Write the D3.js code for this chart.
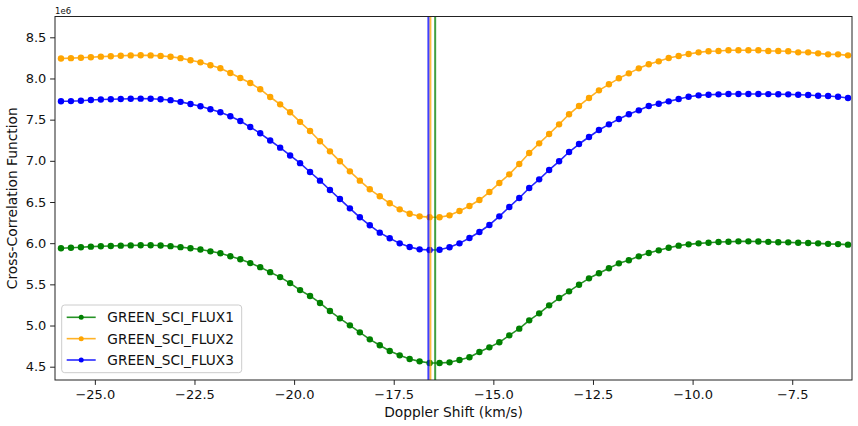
<!DOCTYPE html>
<html>
<head>
<meta charset="utf-8">
<script src="https://cdn.jsdelivr.net/npm/d3@7"></script>
<style>
  html, body { margin: 0; padding: 0; background: #fff; }
  svg { display: block; font-family: "DejaVu Sans", sans-serif; }
</style>
</head>
<body>
<svg id="chart" width="858" height="426"></svg>
<script>
// ---- data (values in units of 1e6) ----
const velocity = [-25.85, -25.60, -25.35, -25.10, -24.85, -24.60, -24.35, -24.10, -23.85, -23.60,
  -23.35, -23.10, -22.85, -22.60, -22.35, -22.10, -21.85, -21.60, -21.35, -21.10,
  -20.85, -20.60, -20.35, -20.10, -19.85, -19.60, -19.35, -19.10, -18.85, -18.60,
  -18.35, -18.10, -17.85, -17.60, -17.35, -17.10, -16.85, -16.60, -16.35, -16.10,
  -15.85, -15.60, -15.35, -15.10, -14.85, -14.60, -14.35, -14.10, -13.85, -13.60,
  -13.35, -13.10, -12.85, -12.60, -12.35, -12.10, -11.85, -11.60, -11.35, -11.10,
  -10.85, -10.60, -10.35, -10.10, -9.85, -9.60, -9.35, -9.10, -8.85, -8.60,
  -8.35, -8.10, -7.85, -7.60, -7.35, -7.10, -6.85, -6.60, -6.35, -6.10];

const flux1 = [5.938, 5.945, 5.950, 5.958, 5.962, 5.965, 5.970, 5.973, 5.974, 5.974,
  5.972, 5.964, 5.952, 5.938, 5.924, 5.901, 5.877, 5.841, 5.804, 5.758,
  5.709, 5.648, 5.588, 5.515, 5.430, 5.359, 5.274, 5.176, 5.087, 5.002,
  4.917, 4.832, 4.760, 4.691, 4.638, 4.594, 4.565, 4.545, 4.545, 4.553,
  4.581, 4.614, 4.679, 4.735, 4.796, 4.881, 4.962, 5.063, 5.148, 5.245,
  5.334, 5.415, 5.496, 5.573, 5.634, 5.695, 5.755, 5.792, 5.840, 5.881,
  5.913, 5.945, 5.970, 5.986, 5.998, 6.006, 6.014, 6.018, 6.022, 6.022,
  6.021, 6.016, 6.012, 6.010, 6.006, 6.002, 5.998, 5.992, 5.989, 5.982];

const flux2 = [8.243, 8.247, 8.252, 8.258, 8.265, 8.270, 8.276, 8.280, 8.282, 8.280,
  8.274, 8.263, 8.247, 8.221, 8.196, 8.160, 8.124, 8.066, 8.006, 7.945,
  7.870, 7.775, 7.686, 7.589, 7.473, 7.362, 7.237, 7.115, 6.994, 6.872,
  6.759, 6.654, 6.569, 6.484, 6.411, 6.358, 6.326, 6.316, 6.314, 6.338,
  6.391, 6.452, 6.524, 6.621, 6.731, 6.836, 6.961, 7.095, 7.212, 7.326,
  7.443, 7.565, 7.666, 7.763, 7.856, 7.929, 8.002, 8.062, 8.123, 8.172,
  8.208, 8.249, 8.273, 8.297, 8.317, 8.330, 8.334, 8.342, 8.342, 8.342,
  8.342, 8.334, 8.334, 8.330, 8.317, 8.317, 8.305, 8.293, 8.293, 8.281];

const flux3 = [7.723, 7.725, 7.730, 7.738, 7.744, 7.748, 7.751, 7.754, 7.755, 7.753,
  7.747, 7.737, 7.716, 7.690, 7.662, 7.626, 7.589, 7.541, 7.484, 7.410,
  7.334, 7.247, 7.160, 7.065, 6.972, 6.864, 6.759, 6.646, 6.536, 6.423,
  6.314, 6.217, 6.128, 6.059, 5.998, 5.954, 5.925, 5.917, 5.921, 5.950,
  5.998, 6.063, 6.136, 6.221, 6.326, 6.439, 6.549, 6.670, 6.775, 6.889,
  6.994, 7.107, 7.204, 7.289, 7.374, 7.443, 7.508, 7.565, 7.613, 7.666,
  7.694, 7.722, 7.751, 7.779, 7.795, 7.803, 7.807, 7.811, 7.811, 7.811,
  7.811, 7.810, 7.809, 7.807, 7.803, 7.799, 7.791, 7.787, 7.779, 7.763];

const seriesNames = ["GREEN_SCI_FLUX1", "GREEN_SCI_FLUX2", "GREEN_SCI_FLUX3"];
const seriesColors = ["green", "orange", "blue"];
const ccfCenters = [-16.46, -16.58, -16.63];   // vertical marker per series

const xTicks = [-25.0, -22.5, -20.0, -17.5, -15.0, -12.5, -10.0, -7.5];
const yTicks = [4.5, 5.0, 5.5, 6.0, 6.5, 7.0, 7.5, 8.0, 8.5];
const xDomain = [-26, -6];
const yDomain = [4.3385, 8.7526];

// ---- layout ----
const svg = d3.select("#chart");
const W = 858, H = 426;
const m = { left: 55, right: 852, top: 16.5, bottom: 380 };

svg.append("rect").attr("width", W).attr("height", H).attr("fill", "#fff");

const x = d3.scaleLinear().domain(xDomain).range([m.left, m.right]);
const y = d3.scaleLinear().domain(yDomain).range([m.bottom, m.top]);

svg.append("clipPath").attr("id", "plotclip")
  .append("rect").attr("x", m.left).attr("y", m.top)
  .attr("width", m.right - m.left).attr("height", m.bottom - m.top);

const plot = svg.append("g").attr("clip-path", "url(#plotclip)");

const allSeries = [flux1, flux2, flux3];
const line = d3.line().x((d, i) => x(velocity[i])).y(d => y(d));

allSeries.forEach((vals, s) => {
  const g = plot.append("g");
  g.append("path").datum(vals)
    .attr("fill", "none").attr("stroke", seriesColors[s]).attr("stroke-opacity", 0.85)
    .attr("stroke-width", 1.6).attr("stroke-linejoin", "round")
    .attr("d", line);
  g.selectAll("circle").data(vals).enter().append("circle")
    .attr("cx", (d, i) => x(velocity[i])).attr("cy", d => y(d))
    .attr("r", 3.2).attr("fill", seriesColors[s]);
});

// vertical lines
ccfCenters.forEach((c, s) => {
  plot.append("line")
    .attr("x1", x(c)).attr("x2", x(c))
    .attr("y1", m.top).attr("y2", m.bottom)
    .attr("stroke", seriesColors[s]).attr("stroke-opacity", 0.75)
    .attr("stroke-width", 2);
});

// ---- axes ----
const fmt = d3.format(".1f");
const xAxis = svg.append("g").attr("transform", `translate(0,${m.bottom})`)
  .call(d3.axisBottom(x).tickValues(xTicks).tickFormat(fmt).tickSize(4.9).tickPadding(4.6));
const yAxis = svg.append("g").attr("transform", `translate(${m.left},0)`)
  .call(d3.axisLeft(y).tickValues(yTicks).tickFormat(fmt).tickSize(4.9).tickPadding(3.8));

[xAxis, yAxis].forEach(a => {
  a.attr("font-family", null).attr("font-size", null);
  a.select(".domain").remove();
  a.selectAll(".tick line").attr("stroke", "#222").attr("stroke-width", 1);
  a.selectAll(".tick text").attr("fill", "#111")
    .style("font-family", "DejaVu Sans").style("font-size", "13px");
});

// frame
svg.append("rect")
  .attr("x", m.left).attr("y", m.top)
  .attr("width", m.right - m.left).attr("height", m.bottom - m.top)
  .attr("fill", "none").attr("stroke", "#222").attr("stroke-width", 1);

// labels
svg.append("text")
  .attr("x", (m.left + m.right) / 2).attr("y", 416.5)
  .attr("text-anchor", "middle").attr("fill", "#111")
  .style("font-size", "13.8px")
  .text("Doppler Shift (km/s)");

svg.append("text")
  .attr("transform", `translate(17,${(m.top + m.bottom) / 2}) rotate(-90)`)
  .attr("text-anchor", "middle").attr("fill", "#111")
  .style("font-size", "13.8px")
  .text("Cross-Correlation Function");

svg.append("text")
  .attr("x", m.left).attr("y", 14)
  .attr("fill", "#111").style("font-size", "8.5px")
  .text("1e6");

// ---- legend ----
const lg = svg.append("g");
lg.append("rect")
  .attr("x", 61.7).attr("y", 305).attr("width", 180).attr("height", 67.7)
  .attr("rx", 3).attr("fill", "#fff").attr("fill-opacity", 0.8)
  .attr("stroke", "#cccccc").attr("stroke-width", 1);
const rowY = d3.scalePoint().domain(seriesNames).range([317.3, 360]);
seriesNames.forEach((name, s) => {
  const cy = rowY(name);
  lg.append("line").attr("x1", 66.7).attr("x2", 95.7).attr("y1", cy).attr("y2", cy)
    .attr("stroke", seriesColors[s]).attr("stroke-opacity", 0.85).attr("stroke-width", 1.6);
  lg.append("circle").attr("cx", 81.2).attr("cy", cy).attr("r", 2.5)
    .attr("fill", seriesColors[s]);
  lg.append("text").attr("x", 107.3).attr("y", cy + 5.1)
    .attr("fill", "#111").style("font-size", "13.7px").text(name);
});
</script>
</body>
</html>
